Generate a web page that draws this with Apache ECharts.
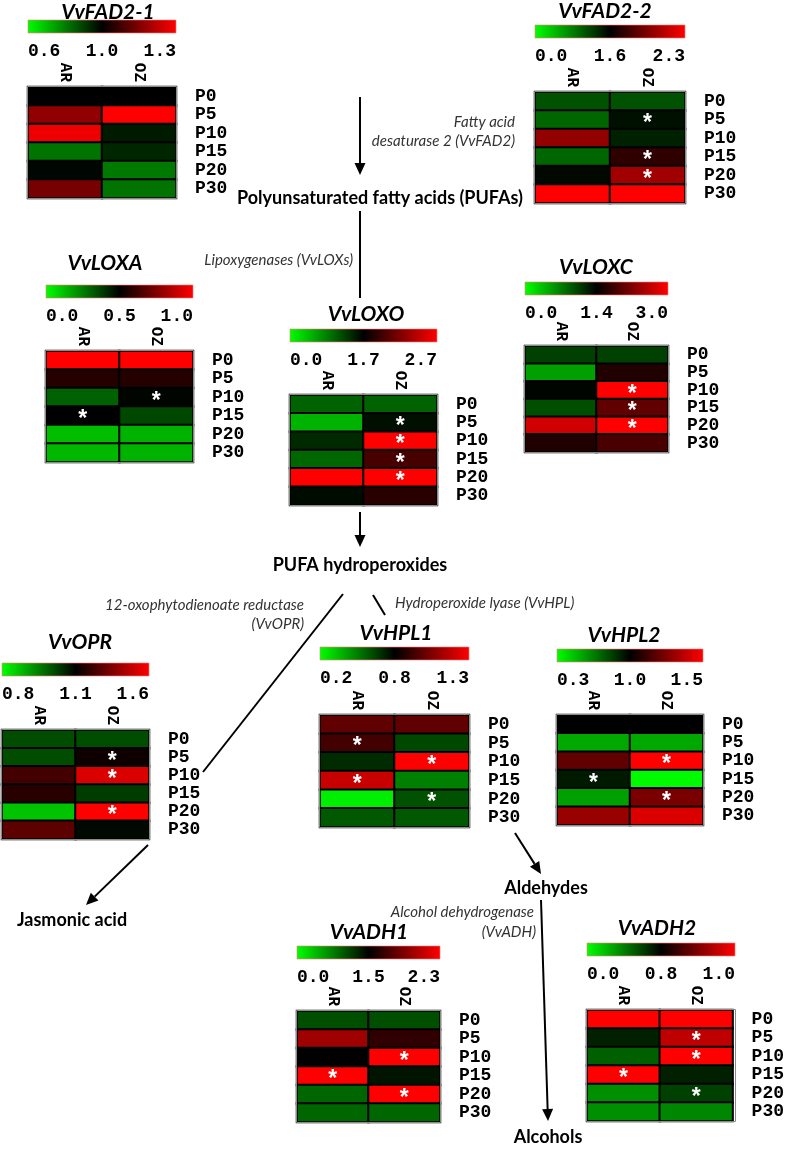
<!DOCTYPE html>
<html>
<head>
<meta charset="utf-8">
<script src="https://cdn.jsdelivr.net/npm/echarts@6/dist/echarts.min.js"></script>
<style>
html, body { margin: 0; padding: 0; background: #fff; }
#chart { width: 787px; height: 1149px; }
</style>
</head>
<body>
<div id="chart"></div>
<script>
const times = ['P0', 'P5', 'P10', 'P15', 'P20', 'P30'];
const cultivars = ['AR', 'OZ'];

// colour scale of each gene: [min, mid (black), max]
// values, stars as [column, row]
const fad21Scale = [0.6, 1.0, 1.3];
const fad21AR = [1.00, 1.17, 1.28, 0.82, 0.99, 1.14];
const fad21OZ = [1.00, 1.30, 0.96, 0.94, 0.81, 0.82];
const fad21Star = [];

const fad22Scale = [0.0, 1.6, 2.3];
const fad22AR = [1.09, 0.96, 2.00, 0.96, 1.55, 2.30];
const fad22OZ = [1.09, 1.50, 1.39, 1.73, 2.04, 2.30];
const fad22Star = [[1, 1], [1, 3], [1, 4]];

const loxaScale = [0.0, 0.5, 1.0];
const loxaAR = [1.00, 0.57, 0.31, 0.50, 0.13, 0.14];
const loxaOZ = [1.00, 0.57, 0.49, 0.36, 0.15, 0.15];
const loxaStar = [[1, 2], [0, 3]];

const loxoScale = [0.0, 1.7, 2.7];
const loxoAR = [1.05, 0.51, 1.43, 1.02, 2.70, 1.63];
const loxoOZ = [1.05, 1.60, 2.70, 1.98, 2.70, 1.86];
const loxoStar = [[1, 1], [1, 2], [1, 3], [1, 4]];

const loxcScale = [0.0, 1.4, 3.0];
const loxcAR = [1.05, 0.52, 1.37, 0.97, 2.71, 1.61];
const loxcOZ = [1.05, 1.61, 3.00, 2.01, 3.00, 1.85];
const loxcStar = [[1, 2], [1, 3], [1, 4]];

const oprScale = [0.8, 1.1, 1.6];
const oprAR = [1.01, 1.01, 1.23, 1.18, 0.87, 1.28];
const oprOZ = [1.01, 1.13, 1.53, 1.03, 1.60, 1.09];
const oprStar = [[1, 1], [1, 2], [1, 4]];

const hpl1Scale = [0.2, 0.8, 1.3];
const hpl1AR = [0.99, 0.93, 0.70, 1.19, 0.24, 0.59];
const hpl1OZ = [0.99, 0.63, 1.30, 0.50, 0.61, 0.59];
const hpl1Star = [[0, 1], [1, 2], [0, 3], [1, 4]];

const hpl2Scale = [0.3, 1.0, 1.5];
const hpl2AR = [1.00, 0.54, 1.19, 0.93, 0.56, 1.30];
const hpl2OZ = [1.00, 0.54, 1.50, 0.31, 1.24, 1.43];
const hpl2Star = [[1, 2], [0, 3], [1, 4]];

const adh1Scale = [0.0, 1.5, 2.3];
const adh1AR = [1.04, 2.00, 1.50, 2.30, 0.90, 0.90];
const adh1OZ = [1.04, 1.65, 2.30, 1.38, 2.30, 0.90];
const adh1Star = [[1, 2], [0, 3], [1, 4]];

const adh2Scale = [0.0, 0.8, 1.0];
const adh2AR = [1.00, 0.70, 0.50, 1.00, 0.35, 0.35];
const adh2OZ = [1.00, 0.95, 1.00, 0.70, 0.60, 0.38];
const adh2Star = [[1, 1], [1, 2], [0, 3], [1, 4]];

const panels = [
  { name: 'VvFAD2-1', scale: fad21Scale, ar: fad21AR, oz: fad21OZ, star: fad21Star, box: [28, 87, 148, 111], bar: 20, tx: 108, ty: 12 },
  { name: 'VvFAD2-2', scale: fad22Scale, ar: fad22AR, oz: fad22OZ, star: fad22Star, box: [535, 92, 150, 111], bar: 25, tx: 605, ty: 11 },
  { name: 'VvLOXA', scale: loxaScale, ar: loxaAR, oz: loxaOZ, star: loxaStar, box: [46, 351, 147, 111], bar: 285, tx: 105, ty: 263 },
  { name: 'VvLOXO', scale: loxoScale, ar: loxoAR, oz: loxoOZ, star: loxoStar, box: [290, 395, 147, 110], bar: 329, tx: 366, ty: 314 },
  { name: 'VvLOXC', scale: loxcScale, ar: loxcAR, oz: loxcOZ, star: loxcStar, box: [525, 346, 143, 106], bar: 282, tx: 596, ty: 267 },
  { name: 'VvOPR', scale: oprScale, ar: oprAR, oz: oprOZ, star: oprStar, box: [2, 730, 147, 109], bar: 663, tx: 80, ty: 642 },
  { name: 'VvHPL1', scale: hpl1Scale, ar: hpl1AR, oz: hpl1OZ, star: hpl1Star, box: [320, 715, 149, 112], bar: 647, tx: 396, ty: 633 },
  { name: 'VvHPL2', scale: hpl2Scale, ar: hpl2AR, oz: hpl2OZ, star: hpl2Star, box: [557, 715, 146, 110], bar: 649, tx: 624, ty: 635 },
  { name: 'VvADH1', scale: adh1Scale, ar: adh1AR, oz: adh1OZ, star: adh1Star, box: [297, 1011, 143, 111], bar: 946, tx: 369, ty: 932 },
  { name: 'VvADH2', scale: adh2Scale, ar: adh2AR, oz: adh2OZ, star: adh2Star, box: [587, 1010, 148, 111], bar: 943, tx: 657, ty: 928 }
];

const MONO = '"Liberation Mono", "Courier New", monospace';
const SANS = 'Lato, "Open Sans", sans-serif';

// green -> black at mid -> red, mid is not the centre of the range
function toColorPos(v, s) {
  return v < s[1] ? (v - s[1]) / (s[1] - s[0]) : (v - s[1]) / (s[2] - s[1]);
}

const grid = [], xAxis = [], yAxis = [], series = [], visualMap = [], graphic = [];

panels.forEach(function (p, k) {
  const [left, top, w, h] = p.box;
  grid.push({ left: left, top: top, width: w, height: h, show: false });
  xAxis.push({
    gridIndex: k, type: 'category', data: cultivars, position: 'top',
    axisLine: { show: false }, axisTick: { show: false }, splitLine: { show: false },
    axisLabel: { rotate: 90, margin: 5, interval: 0, fontFamily: MONO, fontWeight: 'bold', fontSize: 16, color: '#000' }
  });
  yAxis.push({
    gridIndex: k, type: 'category', data: times, inverse: true, position: 'right',
    axisLine: { show: false }, axisTick: { show: false }, splitLine: { show: false },
    axisLabel: { margin: 19, interval: 0, fontFamily: MONO, fontWeight: 'bold', fontSize: 18, color: '#000', padding: [4, 0, 0, 0] }
  });
  const data = [];
  times.forEach(function (t, i) {
    [p.ar[i], p.oz[i]].forEach(function (v, c) {
      const starred = p.star.some(function (s) { return s[0] === c && s[1] === i; });
      data.push([c, i, v, toColorPos(v, p.scale), starred ? 1 : 0]);
    });
  });
  series.push({
    type: 'heatmap', xAxisIndex: k, yAxisIndex: k, data: data,
    itemStyle: { borderColor: '#000', borderWidth: 2 },
    label: {
      show: true, color: '#fff', fontSize: 23, fontWeight: 'bold', fontFamily: 'Liberation Sans',
      offset: [0, 4],
      formatter: function (q) { return q.data[4] ? '*' : ''; }
    },
    emphasis: { disabled: true }
  });
  visualMap.push({
    show: false, seriesIndex: k, dimension: 3, min: -1, max: 1,
    inRange: { color: ['#00ff00', '#000000', '#ff0000'] }
  });

  // outer frame of the heatmap
  graphic.push({ type: 'rect', z: 100, shape: { x: left - 0.5, y: top - 0.5, width: w + 1, height: h + 1 },
    style: { fill: 'none', stroke: '#8a8a8a', lineWidth: 1 } });
  // title
  graphic.push({ type: 'text', x: p.tx, y: p.ty,
    style: { text: p.name, textAlign: 'center', textVerticalAlign: 'middle', font: 'italic bold 21px ' + SANS, fill: '#000' } });
  // colour bar
  graphic.push({ type: 'rect', shape: { x: left, y: p.bar, width: w, height: 13 },
    style: { stroke: 'rgba(255,120,120,0.6)', lineWidth: 1,
      fill: { type: 'linear', x: 0, y: 0, x2: 1, y2: 0,
        colorStops: [{ offset: 0, color: '#00ff00' }, { offset: 0.5, color: '#000000' }, { offset: 1, color: '#ff0000' }] } } });
  const ly = p.bar + 31;
  const fmt = function (v) { return v.toFixed(1); };
  const sf = 'bold 18px ' + MONO;
  graphic.push({ type: 'text', x: left, y: ly, style: { text: fmt(p.scale[0]), textAlign: 'left', textVerticalAlign: 'middle', font: sf, fill: '#000' } });
  graphic.push({ type: 'text', x: left + w / 2, y: ly, style: { text: fmt(p.scale[1]), textAlign: 'center', textVerticalAlign: 'middle', font: sf, fill: '#000' } });
  graphic.push({ type: 'text', x: left + w, y: ly, style: { text: fmt(p.scale[2]), textAlign: 'right', textVerticalAlign: 'middle', font: sf, fill: '#000' } });
});

// pathway arrows and labels
function line(x1, y1, x2, y2) {
  return { type: 'line', shape: { x1: x1, y1: y1, x2: x2, y2: y2 }, style: { stroke: '#000', lineWidth: 2 } };
}
function arrow(x1, y1, x2, y2) {
  const a = Math.atan2(y2 - y1, x2 - x1), L = 12, W = 5.5;
  const bx = x2 - L * Math.cos(a), by = y2 - L * Math.sin(a);
  const nx = -Math.sin(a) * W, ny = Math.cos(a) * W;
  return [line(x1, y1, bx, by), { type: 'polygon', shape: { points: [[x2, y2], [bx + nx, by + ny], [bx - nx, by - ny]] }, style: { fill: '#000' } }];
}
function label(text, x, y, align, italic) {
  return { type: 'text', x: x, y: y, style: { text: text, textAlign: align, textVerticalAlign: 'middle',
    font: italic ? 'italic 15px ' + SANS : 'bold 18px ' + SANS, fill: italic ? '#333' : '#000' } };
}

graphic.push(...arrow(360, 97, 360, 175));
graphic.push(label('Polyunsaturated fatty acids (PUFAs)', 380, 198, 'center'));
graphic.push(label('Fatty acid', 515, 122, 'right', true));
graphic.push(label('desaturase 2 (VvFAD2)', 515, 141, 'right', true));
graphic.push(line(360, 211, 360, 298));
graphic.push(label('Lipoxygenases (VvLOXs)', 353, 260, 'right', true));
graphic.push(...arrow(360, 512, 360, 547));
graphic.push(label('PUFA hydroperoxides', 360, 565, 'center'));
graphic.push(line(343, 594, 203, 772));
graphic.push(line(373, 595, 385, 615));
graphic.push(label('12-oxophytodienoate reductase', 304, 605, 'right', true));
graphic.push(label('(VvOPR)', 304, 624, 'right', true));
graphic.push(label('Hydroperoxide lyase (VvHPL)', 395, 603, 'left', true));
graphic.push(...arrow(148, 845, 86, 905));
graphic.push(label('Jasmonic acid', 72, 920, 'center'));
graphic.push(...arrow(515, 833, 541, 874));
graphic.push(label('Aldehydes', 546, 888, 'center'));
graphic.push(label('Alcohol dehydrogenase', 534, 912, 'right', true));
graphic.push(label('(VvADH)', 536, 932, 'right', true));
graphic.push(...arrow(541, 900, 548, 1121));
graphic.push(label('Alcohols', 548, 1137, 'center'));

const chart = echarts.init(document.getElementById('chart'), null, { renderer: 'canvas' });
chart.setOption({
  backgroundColor: '#fff',
  animation: false,
  grid: grid,
  xAxis: xAxis,
  yAxis: yAxis,
  visualMap: visualMap,
  series: series,
  graphic: graphic
});
</script>
</body>
</html>
